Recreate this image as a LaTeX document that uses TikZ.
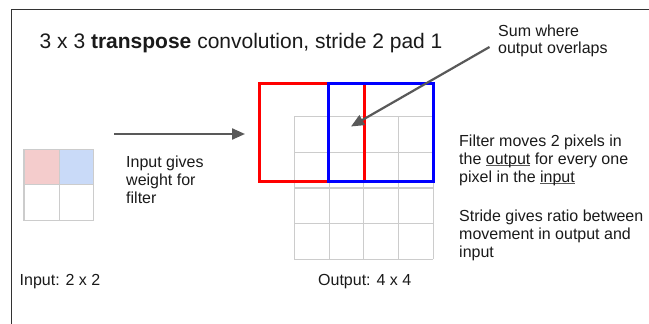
\documentclass[tikz,border=0pt]{standalone}
\usepackage{fontspec}
\setmainfont{Liberation Sans}
\usetikzlibrary{arrows.meta}
\definecolor{gridgray}{HTML}{CCCCCC}
\definecolor{framegray}{HTML}{333333}
\definecolor{arrowgray}{HTML}{595959}
\definecolor{cellred}{HTML}{F4CCCC}
\definecolor{cellblue}{HTML}{C9DAF8}
\definecolor{filterred}{HTML}{FF0000}
\definecolor{filterblue}{HTML}{0000FF}
\definecolor{textblack}{HTML}{1A1A1A}
% underline drawn close to the baseline
\newcommand\lowul[1]{\setbox0\hbox{#1}\rlap{\raisebox{-2.2pt}{\color{arrowgray}\rule{\wd0}{0.9pt}}}\box0\relax}
\begin{document}
\begin{tikzpicture}[x=1pt,y=-1pt,text=textblack,
  txt/.style={anchor=base west,inner sep=0pt,font=\fontsize{16}{18}\selectfont},
  gridline/.style={draw=gridgray,line width=1.1pt},
  filterbox/.style={line width=3pt},
  pointer/.style={draw=arrowgray,line width=2.2pt,-{Triangle[length=13pt,width=11pt]}}]
\useasboundingbox (0,0) rectangle (649,324);
\fill[white] (0,0) rectangle (649,324);

% frame
\draw[framegray,line width=1.5pt] (11.5,324) -- (11.5,9.5) -- (649,9.5);

% title
\node[anchor=base west,inner sep=0pt,font=\fontsize{21}{25}\selectfont] (title) at (39.5,48.3)
  {3 x 3 \textbf{transpose} convolution, stride 2 pad 1};

% input 2x2
\fill[cellred] (24,149.3) rectangle (59.3,184.3);
\fill[cellblue] (59.3,149.3) rectangle (93.7,184.3);
\draw[gridline] (24,149.3) rectangle (93.7,220.7);
\draw[gridline] (59.3,149.3) -- (59.3,220.7);
\draw[gridline] (24,184.3) -- (93.7,184.3);
\node[txt] (inlbl) at (19.5,285.5) {Input: 2 x 2};

% output 4x4
\foreach \i in {0,...,4}{
  \draw[gridline] ({294.3+34.75*\i},116.7) -- ({294.3+34.75*\i},259.3);
  \draw[gridline] (294.3,{116.7+35.65*\i}) -- (433.3,{116.7+35.65*\i});
}
\node[txt] (outlbl) at (318,285.5) {Output: 4 x 4};

% two filter positions
\draw[filterbox,filterred] (259.3,83.3) rectangle (364.3,181.3);
\draw[filterbox,filterblue] (328.6,83.3) rectangle (433.3,181.3);

% explanations
\node[txt] (w1) at (126,167.5) {Input gives};
\node[txt] (w2) at (126,185.5) {weight for};
\node[txt] (w3) at (126,203.5) {filter};

\node[txt] (s1) at (498,36) {Sum where};
\node[txt] (s2) at (498,53) {output overlaps};

\node[txt] (f1) at (459,146) {Filter moves 2 pixels in};
\node[txt] (f2) at (459,164) {the \lowul{output} for every one};
\node[txt] (f3) at (459,182) {pixel in the \lowul{input}};

\node[txt] (r1) at (459,221) {Stride gives ratio between};
\node[txt] (r2) at (459,239) {movement in output and};
\node[txt] (r3) at (459,257) {input};

% arrows
\coordinate (hstart) at (114,134);
\coordinate (hend) at (245,134);
\draw[pointer] (hstart) -- (hend);
\coordinate (dstart) at (489.5,47);
\coordinate (overlap) at (351,126.5);
\draw[pointer] (dstart) -- (overlap);
\end{tikzpicture}
\end{document}
